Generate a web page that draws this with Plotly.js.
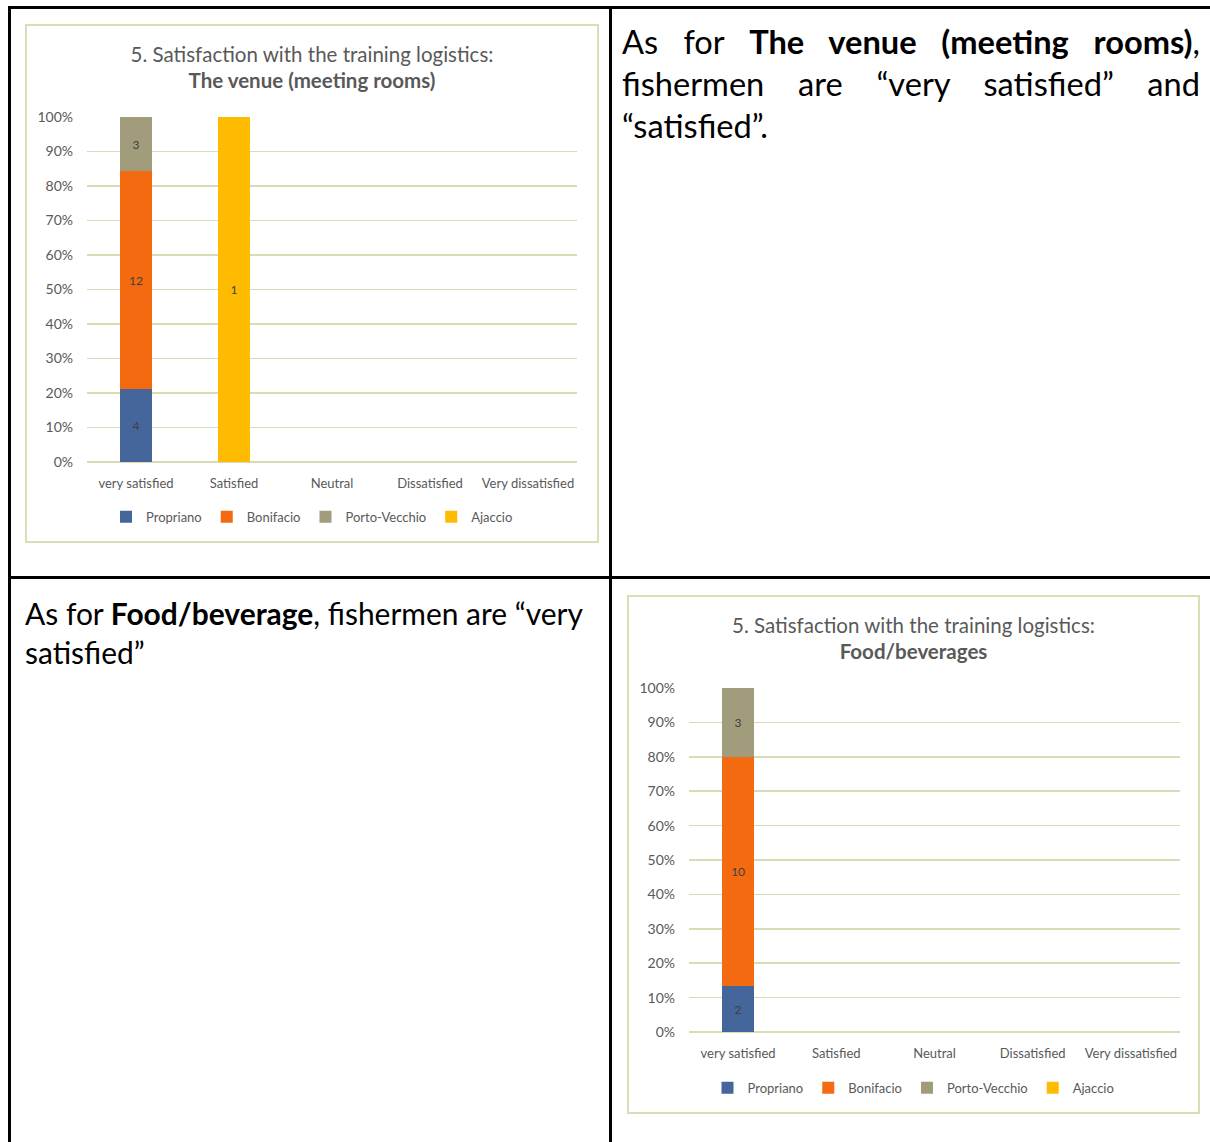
<!DOCTYPE html>
<html><head><meta charset="utf-8">
<script src="https://cdn.plot.ly/plotly-3.0.1.min.js"></script>
<style>
html,body{margin:0;padding:0;background:#fff;width:1210px;height:1142px;overflow:hidden;position:relative;font-family:Lato,'Open Sans',sans-serif;}
.rule{position:absolute;background:#000;}
.box{position:absolute;border:2px solid #dcdcb6;box-sizing:border-box;background:#fff;}
.chart{width:100%;height:100%;}
.line{position:absolute;white-space:nowrap;color:#000;line-height:1;}
.just{text-align:justify;text-align-last:justify;white-space:normal;}
.mark{display:inline-block;width:0;height:0;}
</style></head><body>
<div class="rule" style="left:8px;top:6px;width:1202px;height:3px"></div>
<div class="rule" style="left:8px;top:6px;width:3px;height:1136px"></div>
<div class="rule" style="left:609px;top:6px;width:3px;height:1136px"></div>
<div class="rule" style="left:8px;top:576px;width:1202px;height:3px"></div>

<div class="box" style="left:25px;top:24px;width:574px;height:519px"><div id="chart1" class="chart"></div></div>
<div class="box" style="left:627px;top:595px;width:573px;height:519px"><div id="chart2" class="chart"></div></div>

<div id="t1a" class="line just" style="left:622px;width:578px" data-base="54">As for <b>The venue (meeting rooms)</b>,<span class="mark"></span></div>
<div id="t1b" class="line just" style="left:622px;width:578px" data-base="96">fishermen are “very satisfied” and<span class="mark"></span></div>
<div id="t1c" class="line" style="left:622px" data-base="138">“satisfied”.<span class="mark"></span></div>
<div id="t2a" class="line" style="left:25px" data-base="625">As for <b>Food/beverage</b>, fishermen are “very<span class="mark"></span></div>
<div id="t2b" class="line" style="left:25px" data-base="664">satisfied”<span class="mark"></span></div>

<script>
// ---- data ----
var categories = ['very satisfied', 'Satisfied', 'Neutral', 'Dissatisfied', 'Very dissatisfied'];
var seriesNames = ['Propriano', 'Bonifacio', 'Porto-Vecchio', 'Ajaccio'];
var seriesColors = ['#45669a', '#f46a10', '#a19d7c', '#ffbb00'];

// Chart 1: The venue (meeting rooms)
var venuePropriano    = [4, null, null, null, null];
var venueBonifacio    = [12, null, null, null, null];
var venuePortoVecchio = [3, null, null, null, null];
var venueAjaccio      = [null, 1, null, null, null];

// Chart 2: Food/beverages
var foodPropriano    = [2, null, null, null, null];
var foodBonifacio    = [10, null, null, null, null];
var foodPortoVecchio = [3, null, null, null, null];
var foodAjaccio      = [null, null, null, null, null];

var yTickVals = [0, 10, 20, 30, 40, 50, 60, 70, 80, 90, 100];
var yTickText = ['0%', '10%', '20%', '30%', '40%', '50%', '60%', '70%', '80%', '90%', '100%'];

var title1 = '5. Satisfaction with the training logistics:<br><b>The venue (meeting rooms)</b>';
var title2 = '5. Satisfaction with the training logistics:<br><b>Food/beverages</b>';

// ---- build ----
var FONT = 'Lato, "Open Sans", sans-serif';
var GREY = '#595959';
var GRID = '#dadab4';

function makeTraces(seriesList) {
  return seriesList.map(function (vals, i) {
    return {
      type: 'bar',
      name: seriesNames[i],
      x: categories,
      y: vals,
      text: vals.map(function (v) { return v == null ? '' : String(v); }),
      textposition: 'inside',
      insidetextanchor: 'middle',
      textangle: 0,
      constraintext: 'none',
      textfont: {family: FONT, size: 12, color: '#404040'},
      marker: {color: seriesColors[i], line: {width: 0}},
      hoverinfo: 'skip'
    };
  });
}

function makeLayout(titleText, m) {
  return {
    barmode: 'stack',
    barnorm: 'percent',
    bargap: 0.67,
    paper_bgcolor: '#ffffff',
    plot_bgcolor: '#ffffff',
    margin: m,
    font: {family: FONT, color: GREY, size: 12},
    title: {
      text: titleText,
      font: {family: FONT, size: 20.5, color: GREY},
      x: 0.5, xanchor: 'center', xref: 'container',
      y: 0.931, yanchor: 'middle', yref: 'container'
    },
    xaxis: {
      type: 'category',
      categoryorder: 'array',
      categoryarray: categories,
      range: [-0.5, 4.5],
      showgrid: false,
      zeroline: false,
      showline: false,
      ticks: '',
      ticklabelstandoff: 12,
      tickfont: {family: FONT, size: 13, color: GREY},
      fixedrange: true
    },
    yaxis: {
      range: [0, 100],
      tickmode: 'array',
      tickvals: yTickVals,
      ticktext: yTickText,
      showgrid: true,
      gridcolor: GRID,
      gridwidth: 1.5,
      zeroline: true,
      zerolinecolor: GRID,
      zerolinewidth: 1.5,
      showline: false,
      ticks: '',
      ticklabelstandoff: 13,
      tickfont: {family: FONT, size: 14, color: GREY},
      fixedrange: true
    },
    showlegend: true,
    legend: {
      orientation: 'h',
      xref: 'container', yref: 'container',
      x: 0.5, xanchor: 'center',
      y: 0.047, yanchor: 'middle',
      font: {family: FONT, size: 13, color: GREY},
      itemclick: false, itemdoubleclick: false,
      traceorder: 'normal'
    }
  };
}

var cfg = {staticPlot: true, displayModeBar: false};
Plotly.newPlot('chart1',
  makeTraces([venuePropriano, venueBonifacio, venuePortoVecchio, venueAjaccio]),
  makeLayout(title1, {l: 60, r: 20, t: 91, b: 79}), cfg);
Plotly.newPlot('chart2',
  makeTraces([foodPropriano, foodBonifacio, foodPortoVecchio, foodAjaccio]),
  makeLayout(title2, {l: 60, r: 18, t: 91, b: 80}), cfg);

// ---- text sizing and baseline placement ----
function natWidth(el, size) {
  var c = el.cloneNode(true);
  c.className = 'line';
  c.style.fontSize = size + 'px';
  c.style.width = 'auto';
  c.style.visibility = 'hidden';
  document.body.appendChild(c);
  var w = c.getBoundingClientRect().width;
  document.body.removeChild(c);
  return w;
}
var t1c = document.getElementById('t1c');
var t2a = document.getElementById('t2a');
var f1 = 100 * 146 / natWidth(t1c, 100);
var f2 = 100 * 558 / natWidth(t2a, 100);
var t1a = document.getElementById('t1a');
var t1b = document.getElementById('t1b');
var maxF1 = Math.min(100 * 570 / natWidth(t1a, 100), 100 * 570 / natWidth(t1b, 100));
f1 = Math.min(f1, maxF1);
['t1a','t1b','t1c'].forEach(function(id){ document.getElementById(id).style.fontSize = f1 + 'px'; });
['t2a','t2b'].forEach(function(id){ document.getElementById(id).style.fontSize = f2 + 'px'; });
['t1a','t1b','t1c','t2a','t2b'].forEach(function(id){
  var el = document.getElementById(id);
  el.style.top = '0px';
  var mk = el.querySelector('.mark');
  var off = mk.getBoundingClientRect().top - el.getBoundingClientRect().top;
  el.style.top = (parseFloat(el.getAttribute('data-base')) - off) + 'px';
});
</script>
</body></html>
